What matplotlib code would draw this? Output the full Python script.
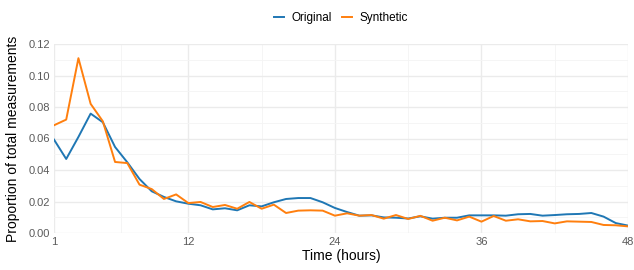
import numpy as np
import matplotlib
matplotlib.use("Agg")
import matplotlib.pyplot as plt

plt.rcParams['font.family'] = ['Liberation Sans', 'DejaVu Sans']

hours = np.arange(1, 49)

original = [0.0593, 0.0470, 0.0610, 0.0758, 0.0703, 0.0546, 0.0449, 0.0343, 0.0265, 0.0229,
            0.0201, 0.0186, 0.0176, 0.0150, 0.0157, 0.0144, 0.0176, 0.0169, 0.0195, 0.0216,
            0.0222, 0.0222, 0.0195, 0.0159, 0.0133, 0.0110, 0.0112, 0.0099, 0.0097, 0.0092,
            0.0106, 0.0091, 0.0097, 0.0097, 0.0112, 0.0112, 0.0112, 0.0110, 0.0119, 0.0121,
            0.0110, 0.0114, 0.0119, 0.0121, 0.0127, 0.0104, 0.0063, 0.0047]

synthetic = [0.0684, 0.0720, 0.1110, 0.0820, 0.0709, 0.0451, 0.0444, 0.0307, 0.0279, 0.0216,
             0.0245, 0.0190, 0.0197, 0.0165, 0.0178, 0.0154, 0.0197, 0.0154, 0.0180, 0.0127,
             0.0142, 0.0144, 0.0142, 0.0110, 0.0125, 0.0110, 0.0114, 0.0091, 0.0114, 0.0089,
             0.0109, 0.0078, 0.0097, 0.0080, 0.0104, 0.0072, 0.0108, 0.0078, 0.0087, 0.0074,
             0.0076, 0.0061, 0.0074, 0.0072, 0.0070, 0.0051, 0.0049, 0.0042]

x_ticks = [1, 12, 24, 36, 48]
y_ticks = [0.00, 0.02, 0.04, 0.06, 0.08, 0.10, 0.12]

fig = plt.figure(figsize=(6.34, 2.70), dpi=100)
ax = fig.add_axes([54 / 634, 37 / 270, 574 / 634, 189 / 270])

# ggplot-like minimal theme: major + minor grid, no spines
minor_x = [(a + b) / 2 for a, b in zip(x_ticks[:-1], x_ticks[1:])]
minor_y = [(a + b) / 2 for a, b in zip(y_ticks[:-1], y_ticks[1:])]
ax.set_xticks(x_ticks)
ax.set_yticks(y_ticks)
ax.set_xticks(minor_x, minor=True)
ax.set_yticks(minor_y, minor=True)
ax.grid(which='major', color='#EBEBEB', linewidth=1.0)
ax.grid(which='minor', color='#F4F4F4', linewidth=0.6)
ax.set_axisbelow(True)
for s in ax.spines.values():
    s.set_visible(False)
ax.tick_params(which='both', length=0, labelsize=8, labelcolor='#5A5A5A', pad=3)
ax.set_yticklabels(['%.2f' % v for v in y_ticks])

ax.plot(hours, original, color='#1F77B4', linewidth=1.4, label='Original')
ax.plot(hours, synthetic, color='#FF7F0E', linewidth=1.4, label='Synthetic')

ax.set_xlim(1, 48)
ax.set_ylim(0, 0.12)
ax.set_xlabel('Time (hours)', fontsize=10, labelpad=1)
ax.set_ylabel('Proportion of total measurements', fontsize=10, labelpad=6)

fig.legend(loc='center', bbox_to_anchor=(0.538, 0.933), ncol=2, frameon=False,
           fontsize=8.5, handlelength=0.85, handletextpad=0.6, columnspacing=0.9)

fig.savefig('out.png', dpi=100)
